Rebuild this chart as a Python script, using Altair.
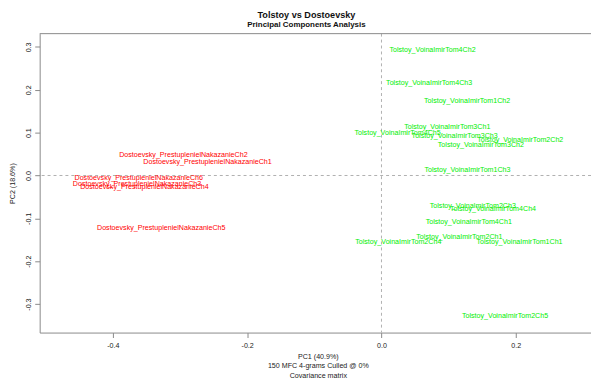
import altair as alt
import pandas as pd

# Dostoevsky samples
dost_names = [
    "Dostoevsky_PrestuplenielNakazanieCh1",
    "Dostoevsky_PrestuplenielNakazanieCh2",
    "Dostoevsky_PrestuplenielNakazanieCh3",
    "Dostoevsky_PrestuplenielNakazanieCh4",
    "Dostoevsky_PrestuplenielNakazanieCh5",
    "Dostoevsky_PrestuplenielNakazanieCh6",
]
dost_pc1 = [-0.259, -0.295, -0.364, -0.353, -0.328, -0.3615]
dost_pc2 = [0.031, 0.047, -0.019, -0.026, -0.122, -0.007]

# Tolstoy samples
tol_names = [
    "Tolstoy_VoinaImirTom1Ch1",
    "Tolstoy_VoinaImirTom1Ch2",
    "Tolstoy_VoinaImirTom1Ch3",
    "Tolstoy_VoinaImirTom2Ch1",
    "Tolstoy_VoinaImirTom2Ch2",
    "Tolstoy_VoinaImirTom2Ch3",
    "Tolstoy_VoinaImirTom2Ch4",
    "Tolstoy_VoinaImirTom2Ch5",
    "Tolstoy_VoinaImirTom3Ch1",
    "Tolstoy_VoinaImirTom3Ch2",
    "Tolstoy_VoinaImirTom3Ch3",
    "Tolstoy_VoinaImirTom4Ch1",
    "Tolstoy_VoinaImirTom4Ch2",
    "Tolstoy_VoinaImirTom4Ch3",
    "Tolstoy_VoinaImirTom4Ch4",
    "Tolstoy_VoinaImirTom4Ch5",
]
tol_pc1 = [0.2055, 0.1275, 0.128, 0.116, 0.2066, 0.136, 0.025, 0.184,
           0.098, 0.148, 0.109, 0.130, 0.076, 0.071, 0.166, 0.024]
tol_pc2 = [-0.155, 0.174, 0.012, -0.144, 0.083, -0.071, -0.156, -0.329,
           0.114, 0.070, 0.091, -0.1085, 0.293, 0.216, -0.078, 0.098]

x_ticks = [-0.4, -0.2, 0.0, 0.2]
y_ticks = [-0.3, -0.2, -0.1, 0.0, 0.1, 0.2, 0.3]
x_domain = [-0.509, 0.312]
y_domain = [-0.3665, 0.331]

rows = []
for n, a, b in zip(dost_names, dost_pc1, dost_pc2):
    rows.append({"name": n, "PC1": a, "PC2": b, "author": "Dostoevsky"})
for n, a, b in zip(tol_names, tol_pc1, tol_pc2):
    rows.append({"name": n, "PC1": a, "PC2": b, "author": "Tolstoy"})
df = pd.DataFrame(rows)

FONT = "Liberation Sans"
lab_expr = "replace(format(datum.value, '.1f'), '\u2212', '-')"

xscale = alt.Scale(domain=x_domain, nice=False, zero=False)
yscale = alt.Scale(domain=y_domain, nice=False, zero=False)

xaxis = alt.Axis(
    values=x_ticks, labelExpr=lab_expr, grid=False,
    domainColor="#8a8a8a", tickColor="#8a8a8a", tickSize=5,
    labelFont=FONT, labelFontSize=7.2, labelColor="#222222", labelPadding=4,
    labelFlush=False,
    title=["PC1 (40.9%)", "150 MFC 4-grams Culled @ 0%", "Covariance matrix"],
    titleFont=FONT, titleFontSize=7.2, titleFontWeight="normal",
    titleColor="#222222", titleLineHeight=9.6, titlePadding=4, titleX=281,
)
yaxis = alt.Axis(
    values=y_ticks, labelExpr=lab_expr, grid=False,
    domainColor="#8a8a8a", tickColor="#8a8a8a", tickSize=5,
    labelFont=FONT, labelFontSize=7.2, labelColor="#222222",
    labelAngle=270, labelAlign="center", labelBaseline="bottom", labelPadding=2,
    labelFlush=False,
    title="PC2 (18.6%)", titleFont=FONT, titleFontSize=7.2,
    titleFontWeight="normal", titleColor="#222222", titlePadding=8,
)

base = alt.Chart(df)

texts = base.mark_text(font=FONT, fontSize=7.2, align="center",
                       baseline="middle").encode(
    x=alt.X("PC1:Q", scale=xscale, axis=xaxis),
    y=alt.Y("PC2:Q", scale=yscale, axis=yaxis),
    text="name:N",
    color=alt.Color("author:N",
                    scale=alt.Scale(domain=["Dostoevsky", "Tolstoy"],
                                    range=["#ff0000", "#00ee00"]),
                    legend=None),
)

zero_df = pd.DataFrame({"v": [0.0]})
hline = alt.Chart(zero_df).mark_rule(color="#b0b0b0", strokeDash=[3, 3],
                                     strokeWidth=1).encode(
    y=alt.Y("v:Q", scale=yscale))
vline = alt.Chart(zero_df).mark_rule(color="#b0b0b0", strokeDash=[3, 3],
                                     strokeWidth=1).encode(
    x=alt.X("v:Q", scale=xscale))
top_df = pd.DataFrame({"v": [y_domain[1]]})
topline = alt.Chart(top_df).mark_rule(color="#8a8a8a", strokeWidth=1).encode(
    y=alt.Y("v:Q", scale=yscale))

chart = alt.layer(hline, vline, topline, texts).properties(
    width=557, height=302,
    autosize=alt.AutoSizeParams(type="none"),
    padding={"left": 32, "top": 24, "right": 0, "bottom": 45},
    title=alt.TitleParams(
        text="Tolstoy vs Dostoevsky",
        subtitle="Principal Components Analysis",
        font=FONT, fontSize=9.2, fontWeight="bold", color="#111111",
        subtitleFont=FONT, subtitleFontSize=8, subtitleFontWeight="bold",
        subtitleColor="#111111", subtitlePadding=1,
        anchor="middle", dx=-9, offset=4,
    ),
).configure_view(stroke=None).resolve_scale(x="shared", y="shared")

chart.save("out.html", embed_options={"renderer": "svg", "actions": False})
